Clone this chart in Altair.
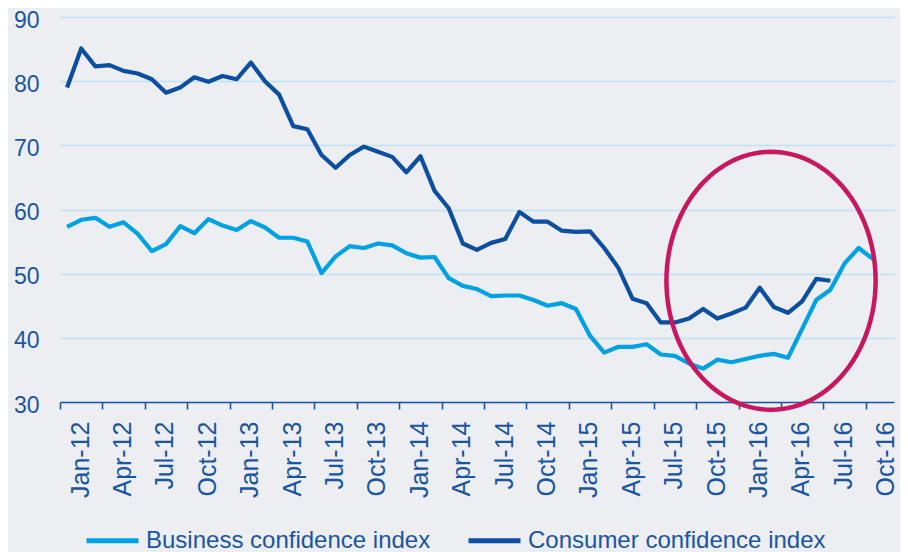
import altair as alt
import pandas as pd
import numpy as np

# Month index 0 = Jan-12
business = [57.3, 58.4, 58.7, 57.3, 58.0, 56.2, 53.5, 54.6, 57.4, 56.3, 58.5, 57.5,
            56.8, 58.2, 57.2, 55.6, 55.6, 55.0, 50.1, 52.7, 54.3, 54.0, 54.7, 54.4,
            53.2, 52.5, 52.6, 49.3, 48.1, 47.6, 46.5, 46.6, 46.6, 45.9, 45.0, 45.4,
            44.5, 40.3, 37.7, 38.6, 38.6, 39.0, 37.4, 37.2, 36.0, 35.2, 36.6, 36.2,
            36.7, 37.2, 37.5, 36.9, 41.4, 45.9, 47.5, 51.6, 54.0, 52.3]
consumer = [79.0, 85.1, 82.3, 82.5, 81.6, 81.2, 80.3, 78.2, 79.0, 80.6, 79.9, 80.8,
            80.3, 82.9, 80.0, 77.9, 73.0, 72.5, 68.5, 66.5, 68.5, 69.8, 69.0, 68.2,
            65.8, 68.3, 62.9, 60.2, 54.7, 53.7, 54.8, 55.4, 59.6, 58.1, 58.1, 56.7,
            56.5, 56.6, 54.0, 50.9, 46.1, 45.4, 42.4, 42.4, 43.0, 44.5, 43.0, 43.8,
            44.7, 47.8, 44.8, 43.9, 45.7, 49.2, 48.9]
tick_labels = ["Jan-12", "Apr-12", "Jul-12", "Oct-12", "Jan-13", "Apr-13", "Jul-13",
               "Oct-13", "Jan-14", "Apr-14", "Jul-14", "Oct-14", "Jan-15", "Apr-15",
               "Jul-15", "Oct-15", "Jan-16", "Apr-16", "Jul-16", "Oct-16"]
series_names = ["Business confidence index", "Consumer confidence index"]
series_colors = ["#00A2E5", "#0B4EA2"]

# annotation ellipse (data units): centre month index, centre value, radii
ell_cx, ell_cy, ell_rx, ell_ry = 49.8, 48.9, 7.4, 20.1

rows = []
for i, v in enumerate(business):
    rows.append({"idx": i, "series": series_names[0], "value": v})
for i, v in enumerate(consumer):
    rows.append({"idx": i, "series": series_names[1], "value": v})
df = pd.DataFrame(rows)

t = np.linspace(0, 2 * np.pi, 121)
ell = pd.DataFrame({"ex": ell_cx + ell_rx * np.cos(t),
                    "ey": ell_cy + ell_ry * np.sin(t),
                    "o": np.arange(len(t))})

text_color = "#1A55A3"
FONT = "Liberation Sans"

tick_vals = [-0.5 + 3 * k for k in range(len(tick_labels))]
label_expr = "[" + ",".join(f"'{s}'" for s in tick_labels) + "][round((datum.value + 0.5) / 3)]"

xscale = alt.Scale(domain=[-0.5, 58.5], nice=False, zero=False)
yscale = alt.Scale(domain=[30, 90], nice=False, zero=False)

lines = alt.Chart(df).mark_line(strokeWidth=4.2, strokeJoin="round", strokeCap="butt").encode(
    x=alt.X("idx:Q", scale=xscale,
            axis=alt.Axis(values=tick_vals, labelExpr=label_expr, title=None,
                          labelAngle=-90, labelAlign="right", labelBaseline="middle",
                          labelOffset=20, labelPadding=12, tickSize=7, tickWidth=1.6,
                          tickColor=text_color, domainColor=text_color, domainWidth=1.6,
                          labelColor=text_color, labelFont=FONT, labelFontSize=25,
                          grid=False, labelOverlap=False, labelBound=False, labelFlush=False)),
    y=alt.Y("value:Q", scale=yscale,
            axis=alt.Axis(values=[30, 40, 50, 60, 70, 80, 90], title=None, domain=False,
                          ticks=False, labelPadding=21, labelOffset=3, labelColor=text_color,
                          labelFont=FONT, labelFontSize=23, gridColor="#BDE3F4", gridWidth=1.6)),
    color=alt.Color("series:N", scale=alt.Scale(domain=series_names, range=series_colors),
                    legend=alt.Legend(orient="none", legendX=24, legendY=495, direction="horizontal",
                                      title=None, symbolType="stroke", symbolSize=2704,
                                      symbolStrokeWidth=5, labelFont=FONT, labelFontSize=24,
                                      labelColor=text_color, labelLimit=0, labelOffset=5,
                                      columnPadding=27, padding=0)),
    detail="series:N",
)

ellipse = alt.Chart(ell).mark_line(color="#C8175E", strokeWidth=4.5).encode(
    x=alt.X("ex:Q", scale=xscale),
    y=alt.Y("ey:Q", scale=yscale),
    order="o:Q",
)

chart = alt.layer(lines, ellipse).properties(
    width=834, height=385,
    autosize=alt.AutoSizeParams(type="none"),
    padding={"left": 52, "top": 9, "right": 6, "bottom": 150},
    background="#ECEEF1",
).configure_view(stroke=None, fill="#ECEEF1")

chart.save("out.html", embed_options={"renderer": "svg", "actions": False})
